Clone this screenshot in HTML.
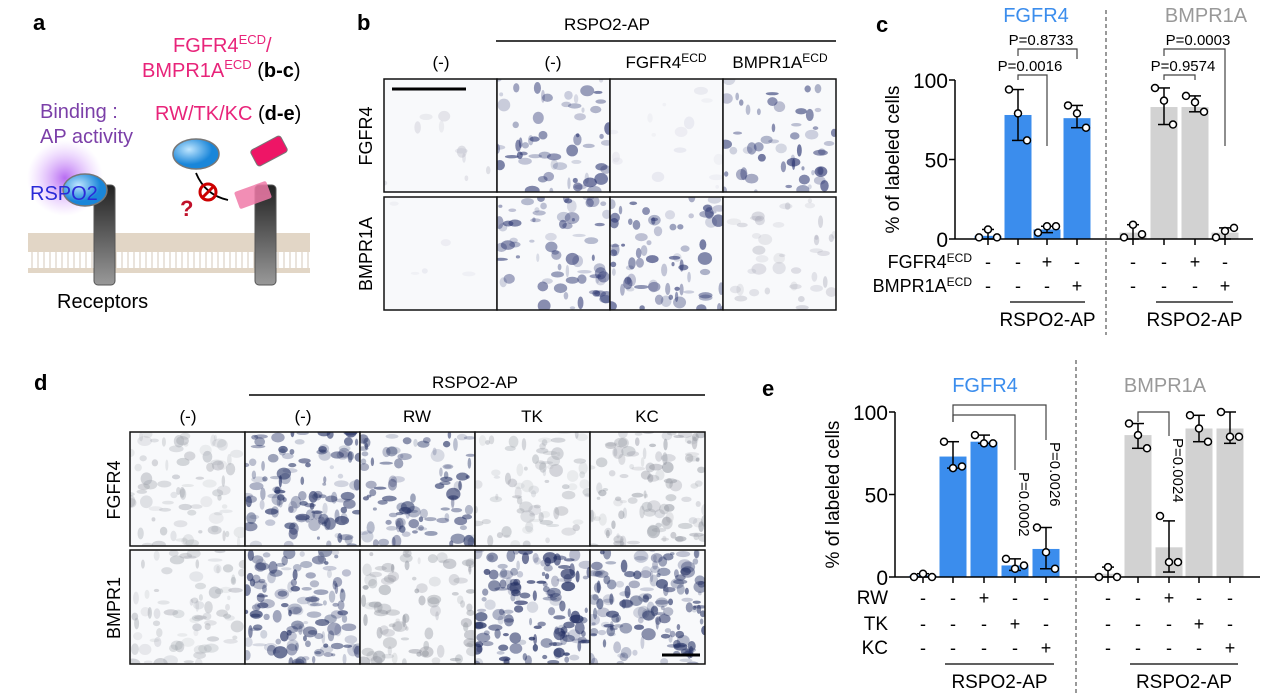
<!DOCTYPE html>
<html><head><meta charset="utf-8">
<style>
html,body{margin:0;padding:0;background:#fff;}
body{width:1268px;height:694px;overflow:hidden;font-family:"Liberation Sans",Arial,sans-serif;}
svg text{font-family:"Liberation Sans",Arial,sans-serif;}
</style></head>
<body>
<svg id="fig" width="1268" height="694" viewBox="0 0 1268 694" xmlns="http://www.w3.org/2000/svg">
<defs>
<radialGradient id="glow"><stop offset="0" stop-color="#b05cf0" stop-opacity="0.9"/><stop offset="1" stop-color="#d9a8ff" stop-opacity="0"/></radialGradient>
<linearGradient id="pillar" x1="0" x2="0" y1="0" y2="1"><stop offset="0" stop-color="#222"/><stop offset="1" stop-color="#999"/></linearGradient>
<radialGradient id="ell" cx="0.35" cy="0.35"><stop offset="0" stop-color="#bfe6ff"/><stop offset="1" stop-color="#1a86d9"/></radialGradient>
<pattern id="mem" width="6" height="40" patternUnits="userSpaceOnUse"><rect width="6" height="40" fill="#fff"/><rect x="0" y="0" width="6" height="12" fill="#e2d6c6"/><line x1="2" y1="12" x2="2" y2="28" stroke="#d6cabb" stroke-width="1"/><rect x="0" y="28" width="6" height="12" fill="#e2d6c6"/></pattern>
</defs>

<!-- Panel a -->
<g>
<text x="33" y="30" font-size="22" font-weight="bold">a</text>
<text x="173" y="52" font-size="20" fill="#e8247a">FGFR4<tspan font-size="13" dy="-8">ECD</tspan><tspan dy="8">/</tspan></text>
<text x="142" y="77" font-size="20" fill="#e8247a">BMPR1A<tspan font-size="13" dy="-8">ECD</tspan><tspan dy="8" fill="#000"> (<tspan font-weight="bold">b-c</tspan>)</tspan></text>
<text x="155" y="120" font-size="20" fill="#e8247a">RW/TK/KC<tspan fill="#000"> (<tspan font-weight="bold">d-e</tspan>)</tspan></text>
<text x="40" y="118" font-size="20" fill="#7b3fa8">Binding :</text>
<text x="40" y="143" font-size="20" fill="#7b3fa8">AP activity</text>
<rect x="28" y="233" width="282" height="40" fill="url(#mem)"/>
<circle cx="65" cy="178" r="38" fill="url(#glow)"/>
<rect x="94" y="185" width="21" height="100" rx="4" fill="url(#pillar)" stroke="#555"/>
<rect x="255" y="185" width="21" height="100" rx="4" fill="url(#pillar)" stroke="#555"/>
<ellipse cx="85" cy="190" rx="22" ry="16" fill="url(#ell)" stroke="#777" stroke-width="1.5"/>
<text x="30" y="200" font-size="20" fill="#2a2ad8">RSPO2</text>
<ellipse cx="196" cy="154" rx="23" ry="15" fill="url(#ell)" stroke="#777" stroke-width="1.5"/>
<rect x="252" y="142" width="34" height="18" rx="3" fill="#ee1566" stroke="#777" transform="rotate(-28 269 151)"/>
<rect x="236" y="186" width="34" height="18" rx="2" fill="#f07aa8" opacity="0.85" transform="rotate(-20 253 195)"/>
<path d="M196 173 Q205 195 228 200" fill="none" stroke="#000" stroke-width="1.8"/>
<circle cx="208" cy="192" r="8" fill="none" stroke="#c00" stroke-width="3"/>
<line x1="202" y1="198" x2="214" y2="186" stroke="#c00" stroke-width="3"/>
<text x="180" y="216" font-size="22" font-weight="bold" fill="#c0102a">?</text>
<text x="57" y="308" font-size="20">Receptors</text>
</g>

<!-- Panel b -->
<g>
<text x="357" y="30" font-size="22" font-weight="bold">b</text>
<text x="607" y="30" font-size="17" text-anchor="middle">RSPO2-AP</text>
<line x1="496" y1="41" x2="836" y2="41" stroke="#000" stroke-width="1.5"/>
<text x="441" y="68" font-size="17" text-anchor="middle">(-)</text>
<text x="553" y="68" font-size="17" text-anchor="middle">(-)</text>
<text x="666" y="68" font-size="17" text-anchor="middle">FGFR4<tspan font-size="12" dy="-6">ECD</tspan></text>
<text x="780" y="68" font-size="17" text-anchor="middle">BMPR1A<tspan font-size="12" dy="-6">ECD</tspan></text>
<text transform="translate(372 136) rotate(-90)" font-size="18" text-anchor="middle">FGFR4</text>
<text transform="translate(372 254) rotate(-90)" font-size="18" text-anchor="middle">BMPR1A</text>
<g id="btiles"></g>
</g>

<!-- Panel d -->
<g>
<text x="34" y="390" font-size="22" font-weight="bold">d</text>
<text x="475" y="388" font-size="17" text-anchor="middle">RSPO2-AP</text>
<line x1="249" y1="395" x2="705" y2="395" stroke="#000" stroke-width="1.5"/>
<text x="188" y="422" font-size="17" text-anchor="middle">(-)</text>
<text x="303" y="422" font-size="17" text-anchor="middle">(-)</text>
<text x="417" y="422" font-size="17" text-anchor="middle">RW</text>
<text x="532" y="422" font-size="17" text-anchor="middle">TK</text>
<text x="647" y="422" font-size="17" text-anchor="middle">KC</text>
<text transform="translate(120 490) rotate(-90)" font-size="18" text-anchor="middle">FGFR4</text>
<text transform="translate(120 608) rotate(-90)" font-size="18" text-anchor="middle">BMPR1</text>
<g id="dtiles"></g>
</g>

<g id="panelC"></g>
<g id="panelE"></g>
</svg>

<script>
// ---- Panel c data ----
const cCategories = ["FGFR4 -", "FGFR4 RSPO2", "FGFR4 +FGFR4ECD", "FGFR4 +BMPR1AECD", "BMPR1A -", "BMPR1A RSPO2", "BMPR1A +FGFR4ECD", "BMPR1A +BMPR1AECD"];
const cMeans = [2, 78, 6, 76, 4, 83, 83, 4];
const cPoints = [[1, 6, 1], [94, 79, 62], [4, 8, 8], [84, 79, 70], [1, 9, 3], [95, 87, 72], [90, 86, 80], [1, 5, 7]];
const cErrLo = [0, 62, 4, 70, 0, 72, 80, 0];
const cErrHi = [6, 94, 8, 84, 9, 95, 90, 7];
const cTicks = [0, 50, 100];
const cRow1 = ["-", "-", "+", "-", "-", "-", "+", "-"];
const cRow2 = ["-", "-", "-", "+", "-", "-", "-", "+"];

// ---- Panel e data ----
const eCategories = ["FGFR4 -", "FGFR4 RSPO2", "FGFR4 RW", "FGFR4 TK", "FGFR4 KC", "BMPR1A -", "BMPR1A RSPO2", "BMPR1A RW", "BMPR1A TK", "BMPR1A KC"];
const eMeans = [1, 73, 82, 7, 17, 2, 86, 18, 90, 90];
const ePoints = [[0, 2, 0], [82, 66, 67], [86, 81, 81], [11, 5, 7], [30, 15, 5], [0, 6, 0], [93, 86, 78], [37, 9, 9], [98, 90, 82], [100, 85, 85]];
const eErrLo = [0, 66, 81, 4, 5, 0, 78, 3, 82, 81];
const eErrHi = [2, 82, 86, 11, 30, 6, 93, 34, 98, 100];
const eTicks = [0, 50, 100];
const eRowRW = ["-", "-", "+", "-", "-", "-", "-", "+", "-", "-"];
const eRowTK = ["-", "-", "-", "+", "-", "-", "-", "-", "+", "-"];
const eRowKC = ["-", "-", "-", "-", "+", "-", "-", "-", "-", "+"];

const NS = "http://www.w3.org/2000/svg";
function mk(parent, tag, attrs, text) {
  const el = document.createElementNS(NS, tag);
  for (const k in attrs) el.setAttribute(k, attrs[k]);
  if (text !== undefined) el.textContent = text;
  parent.appendChild(el);
  return el;
}

function drawChart(g, o) {
  const y = v => o.y0 - (v / 100) * (o.y0 - o.y100);
  const x = i => o.xs[i];
  const t = mk(g, "text", {transform: `translate(${o.axisX - 56} ${(o.y0 + o.y100) / 2}) rotate(-90)`, "font-size": 19, "text-anchor": "middle"}, "% of labeled cells");
  
  
  o.means.forEach((m, i) => {
    const b = mk(g, "rect", {x: x(i) - o.bw / 2, y: y(m), width: o.bw, height: o.y0 - y(m), fill: i < o.split ? "#3b8ded" : "#d2d2d2"});
    
    
  });
  const ya = mk(g, "line", {x1: o.axisX, x2: o.axisX, y1: o.y100, y2: o.y0, stroke: "#000", "stroke-width": 1.5});
  
  
  const xa = mk(g, "line", {x1: o.axisX, x2: o.axisEnd, y1: o.y0, y2: o.y0, stroke: "#000", "stroke-width": 1.5});
  
  
  o.ticks.forEach(v => {
    mk(g, "line", {x1: o.axisX - 6, x2: o.axisX, y1: y(v), y2: y(v), stroke: "#000", "stroke-width": 1.5});
    const tl = mk(g, "text", {x: o.axisX - 7, y: y(v) + 8, "font-size": 21, "text-anchor": "end"}, String(v));
    
    
  });
  o.means.forEach((m, i) => {
    mk(g, "line", {x1: x(i), x2: x(i), y1: o.y0, y2: o.y0 + 6, stroke: "#000", "stroke-width": 1.5});
    mk(g, "line", {x1: x(i), x2: x(i), y1: y(o.hi[i]), y2: y(o.lo[i]), stroke: "#000", "stroke-width": 1.5});
    mk(g, "line", {x1: x(i) - 6, x2: x(i) + 6, y1: y(o.hi[i]), y2: y(o.hi[i]), stroke: "#000", "stroke-width": 1.5});
    mk(g, "line", {x1: x(i) - 6, x2: x(i) + 6, y1: y(o.lo[i]), y2: y(o.lo[i]), stroke: "#000", "stroke-width": 1.5});
    const offs = [-9, 0, 9];
    o.pts[i].forEach((p, j) => {
      const c = mk(g, "circle", {cx: x(i) + offs[j], cy: y(p), r: 3.5, fill: "#fff", stroke: "#000", "stroke-width": 1.5});
      
      
    });
  });
  o.rows.forEach((r, ri) => {
    const lbl = mk(g, "text", {x: o.rowLabelX, y: o.rowY[ri], "font-size": o.rowFont, "text-anchor": "end"});
    lbl.innerHTML = r.label;
    
    
    r.vals.forEach((s, i) => {
      const st = mk(g, "text", {x: x(i), y: o.rowY[ri], "font-size": 18, "text-anchor": "middle"}, s);
      
      
    });
  });
  o.groups.forEach(gr => {
    mk(g, "line", {x1: x(gr[0]) - 8, x2: x(gr[1]) + 8, y1: o.grpY, y2: o.grpY, stroke: "#000", "stroke-width": 1.2});
    const gl = mk(g, "text", {x: (x(gr[0]) + x(gr[1])) / 2, y: o.grpY + 24, "font-size": 19, "text-anchor": "middle"}, "RSPO2-AP");
    
    
  });
  const dv = mk(g, "line", {x1: o.divX, x2: o.divX, y1: o.divY0, y2: o.divY1, stroke: "#333", "stroke-width": 1, "stroke-dasharray": "4 3"});
  
  
  const h1 = mk(g, "text", {x: o.titleX[0], y: o.titleY, "font-size": 20, fill: "#3b8ded", "text-anchor": "middle"}, "FGFR4");
  
  
  const h2 = mk(g, "text", {x: o.titleX[1], y: o.titleY, "font-size": 20, fill: "#999", "text-anchor": "middle"}, "BMPR1A");
  
  
  const pl = mk(g, "text", {x: o.panelLabel[0], y: o.panelLabel[1], "font-size": 22, "font-weight": "bold"}, o.id);
  
  
  return {x, y};
}

const gc = document.getElementById("panelC");
const C = drawChart(gc, {id: "c", axisX: 955, axisEnd: 1253, y0: 239, y100: 80, xs: [988, 1018, 1047, 1077, 1133, 1164, 1195, 1225], bw: 27, split: 4,
  means: cMeans, pts: cPoints, lo: cErrLo, hi: cErrHi, ticks: cTicks,
  rows: [{label: 'FGFR4<tspan font-size="12" dy="-6">ECD</tspan>', vals: cRow1}, {label: 'BMPR1A<tspan font-size="12" dy="-6">ECD</tspan>', vals: cRow2}],
  rowLabelX: 972, rowFont: 18, rowY: [268, 292], groups: [[1, 3], [5, 7]], grpY: 302,
  divX: 1106, divY0: 10, divY1: 335, titleX: [1036, 1206], titleY: 22, panelLabel: [876, 32]});
function bracket(g, x1, x2, yTop, yL, yR, label, lx) {
  mk(g, "path", {d: `M${x1} ${yL} V${yTop} H${x2} V${yR}`, fill: "none", stroke: "#444", "stroke-width": 1.2});
  const t = mk(g, "text", {x: lx, y: yTop - 4, "font-size": 15, "text-anchor": "middle"}, label);
  
  
}
bracket(gc, C.x(1), C.x(3), 49, 56, 59, "P=0.8733", 1041);
bracket(gc, C.x(1), C.x(2), 75, 80, 146, "P=0.0016", 1030);
bracket(gc, C.x(5), C.x(7), 49, 56, 146, "P=0.0003", 1198);
bracket(gc, C.x(5), C.x(6), 75, 80, 80, "P=0.9574", 1183);

const ge = document.getElementById("panelE");
const E = drawChart(ge, {id: "e", axisX: 895, axisEnd: 1260, y0: 577, y100: 412, xs: [923, 953, 984, 1015, 1046, 1108, 1138, 1169, 1199, 1230], bw: 27, split: 5,
  means: eMeans, pts: ePoints, lo: eErrLo, hi: eErrHi, ticks: eTicks,
  rows: [{label: "RW", vals: eRowRW}, {label: "TK", vals: eRowTK}, {label: "KC", vals: eRowKC}],
  rowLabelX: 888, rowFont: 19, rowY: [604, 630, 654], groups: [[1, 4], [6, 9]], grpY: 664,
  divX: 1076, divY0: 360, divY1: 694, titleX: [985, 1165], titleY: 392, panelLabel: [762, 396]});
function vbracket(g, x1, x2, yTop, y1, y2, label) {
  mk(g, "path", {d: `M${x1} ${y1} V${yTop} H${x2} V${y2}`, fill: "none", stroke: "#444", "stroke-width": 1.2});
  const t = mk(g, "text", {transform: `translate(${x2 + 4} ${y2 + 2}) rotate(90)`, "font-size": 15}, label);
  
  
}
vbracket(ge, E.x(1), E.x(3), 415, 422, 470, "P=0.0002");
vbracket(ge, E.x(1), E.x(4), 405, 422, 440, "P=0.0026");
vbracket(ge, E.x(6), E.x(7), 412, 422, 436, "P=0.0024");

// Micrograph tiles (decorative texture)
let seed = 7;
function rnd() { seed = (seed * 16807) % 2147483647; return seed / 2147483647; }
function tile(g, x, y, w, h, color, n, opMax, name) {
  const cl = mk(g, "clipPath", {id: name + "-clip"});
  mk(cl, "rect", {x, y, width: w, height: h});
  const tg = mk(g, "g", {"clip-path": `url(#${name}-clip)`});
  
  
  mk(tg, "rect", {x, y, width: w, height: h, fill: "#f8f9fb"});
  for (let i = 0; i < n; i++) {
    mk(tg, "ellipse", {cx: x + rnd() * w, cy: y + rnd() * h, rx: 1.5 + rnd() * 6, ry: 1.5 + rnd() * 5, fill: color, opacity: 0.15 + rnd() * opMax});
  }
  mk(g, "rect", {x, y, width: w, height: h, fill: "none", stroke: "#111", "stroke-width": 1.5});
}
const bt = document.getElementById("btiles");
const bx = [384, 497, 610, 723], bw = 113;
const bRows = [[79, 113], [197, 113]];
const bStyle = [[["#aab",10,0.2],["#2a3470",60,0.5],["#ccd",15,0.2],["#2a3470",55,0.5]],
                [["#ccd",5,0.2],["#2a3470",70,0.45],["#2a3470",75,0.5],["#99a",40,0.2]]];
bRows.forEach((r, ri) => bx.forEach((xx, ci) => { const s = bStyle[ri][ci]; tile(bt, xx, r[0], bw, r[1], s[0], s[1], s[2], `b-tile-r${ri+1}-c${ci+1}`); }));
mk(bt, "line", {x1: 392, x2: 466, y1: 89, y2: 89, stroke: "#000", "stroke-width": 3});
const dt = document.getElementById("dtiles");
const dx = [130, 245, 360, 475, 590], dw = 115;
const dRows = [[432, 114], [550, 114]];
const dStyle = [[["#a0a4ac",80,0.3],["#2a3668",120,0.55],["#2a3668",100,0.5],["#a0a4ac",80,0.3],["#8a8e98",110,0.35]],
                [["#a0a4ac",80,0.3],["#2a3668",130,0.55],["#8a8e98",90,0.35],["#1f2b60",140,0.6],["#2a3668",150,0.55]]];
dRows.forEach((r, ri) => dx.forEach((xx, ci) => { const s = dStyle[ri][ci]; tile(dt, xx, r[0], dw, r[1], s[0], s[1], s[2], `d-tile-r${ri+1}-c${ci+1}`); }));
mk(dt, "line", {x1: 662, x2: 700, y1: 655, y2: 655, stroke: "#000", "stroke-width": 3});
</script>
</body></html>
